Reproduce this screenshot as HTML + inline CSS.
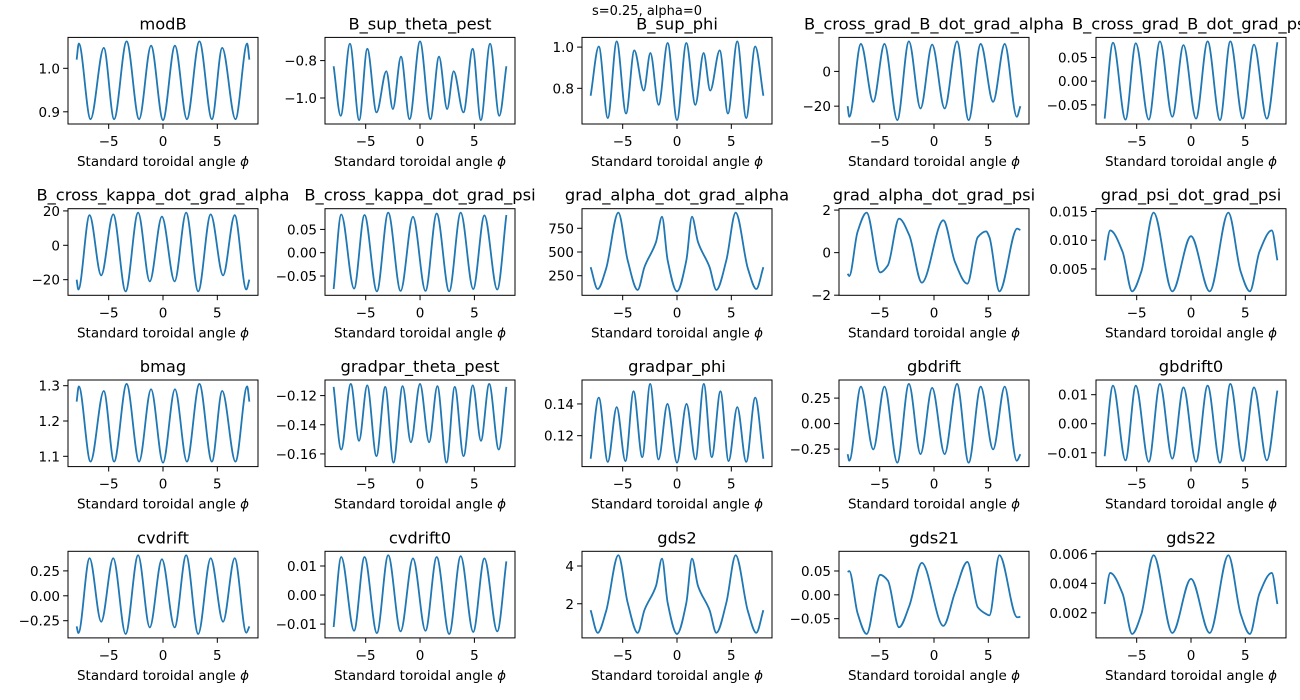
<!DOCTYPE html>
<html><head><meta charset="utf-8"><title>s=0.25, alpha=0</title>
<style>
html,body{margin:0;padding:0;background:#fff;}
svg{display:block;font-family:"DejaVu Sans","Liberation Sans",sans-serif;}
</style></head>
<body>
<svg id="fig" width="1300" height="700" viewBox="0 0 1300 700">
<text x="647" y="15" font-size="13" text-anchor="middle">s=0.25, alpha=0</text>
</svg>
<script>
// ---- shared axis data ----
const xTicks = [-5, 0, 5];
const xTickLabels = ['\u22125', '0', '5'];

// ---- per-plot data ----
const modB_x = [-7.95,-7.75,-6.67,-5.45,-4.5,-3.35,-2.2,-1.1,0,1.1,2.2,3.35,4.5,5.45,6.67,7.75,7.95];
const modB_y = [1.02,1.057,0.883,1.047,0.883,1.062,0.883,1.052,0.881,1.052,0.883,1.062,0.883,1.047,0.883,1.057,1.02];
const modB_yt = [0.9,1.0];
const modB_ytl = ['0.9','1.0'];

const bSupTheta_x = [-7.95,-7.3,-6.45,-5.6,-4.85,-4.0,-3.1,-2.5,-1.75,-0.96,0,0.96,1.75,2.5,3.1,4.0,4.85,5.6,6.45,7.3,7.95];
const bSupTheta_y = [-0.83,-1.095,-0.71,-1.118,-0.737,-1.077,-0.857,-1.059,-0.779,-1.113,-0.697,-1.113,-0.779,-1.059,-0.857,-1.077,-0.737,-1.118,-0.71,-1.095,-0.83];
const bSupTheta_yt = [-1.0,-0.8];
const bSupTheta_ytl = ['\u22121.0','\u22120.8'];

const bSupPhi_x = [-7.95,-7.2,-6.37,-5.55,-4.69,-3.93,-3.06,-2.45,-1.69,-0.86,0,0.86,1.69,2.45,3.06,3.93,4.69,5.55,6.37,7.2,7.95];
const bSupPhi_y = [0.764,1.003,0.656,1.028,0.678,0.984,0.789,0.971,0.72,1.02,0.646,1.02,0.72,0.971,0.789,0.984,0.678,1.028,0.656,1.003,0.764];
const bSupPhi_yt = [0.8,1.0];
const bSupPhi_ytl = ['0.8','1.0'];

const bxgbAlpha_x = [-7.95,-7.8,-6.73,-5.59,-4.56,-3.38,-2.31,-1.24,-0.17,0.98,2.12,3.19,4.3,5.44,6.51,7.62,7.95];
const bxgbAlpha_y = [-20,-26.1,15.8,-17.5,15.8,-28,17.3,-21.3,15.4,-21.3,17.3,-28,15.8,-17.5,15.8,-26.1,-20];
const bxgbAlpha_yt = [-20,0];
const bxgbAlpha_ytl = ['\u221220','0'];

const bxgbPsi_x = [-7.95,-7.18,-6.03,-5.08,-3.89,-2.86,-1.72,-0.69,0.46,1.53,2.67,3.62,4.77,5.8,6.98,7.95];
const bxgbPsi_y = [-0.079,0.081,-0.081,0.080,-0.081,0.084,-0.075,0.076,-0.079,0.084,-0.082,0.084,-0.079,0.077,-0.079,0.082];
const bxgbPsi_yt = [-0.05,0,0.05];
const bxgbPsi_ytl = ['\u22120.05','0.00','0.05'];

const bxkAlpha_x = [-7.95,-7.79,-6.76,-5.69,-4.58,-3.44,-2.29,-1.22,-0.1,1.07,2.13,3.24,4.39,5.53,6.6,7.67,7.95];
const bxkAlpha_y = [-20,-25.7,17.5,-17.5,18,-26.8,19,-21,16.7,-21,19,-26.8,18,-17.5,17.5,-25.7,-20];
const bxkAlpha_yt = [-20,0,20];
const bxkAlpha_ytl = ['\u221220','0','20'];

const bxkPsi_x = [-7.95,-7.25,-6.07,-5.11,-3.97,-2.93,-1.79,-0.65,0.5,1.53,2.68,3.74,4.89,5.92,7.1,7.94];
const bxkPsi_y = [-0.078,0.082,-0.077,0.081,-0.083,0.086,-0.082,0.077,-0.082,0.084,-0.083,0.086,-0.078,0.080,-0.079,0.081];
const bxkPsi_yt = [-0.05,0,0.05];
const bxkPsi_ytl = ['\u22120.05','0.00','0.05'];

const gaga_x = [-7.95,-7.3,-6.53,-5.4,-4.54,-3.62,-3.0,-1.93,-1.38,-0.86,0,0.86,1.38,1.93,3.0,3.62,4.54,5.4,6.53,7.3,7.95];
const gaga_y = [340,110,323,915,412,100,340,606,872,412,85,412,872,606,340,100,412,915,323,110,340];
const gaga_yt = [250,500,750];
const gaga_ytl = ['250','500','750'];

const gagp_x = [-7.95,-7.8,-7.04,-6.2,-4.95,-4.25,-3.22,-2.27,-1.12,0.86,1.93,3.07,4.03,4.79,5.1,6.02,7.66,7.95];
const gagp_y = [-0.99,-1.1,0.97,1.88,-0.93,-0.6,1.6,0.81,-1.41,1.52,-0.44,-1.46,0.73,1.0,0.73,-1.82,1.13,1.06];
const gagp_yt = [-2,0,2];
const gagp_ytl = ['\u22122','0','2'];

const gpgp_x = [-7.95,-7.44,-6.3,-5.42,-4.58,-3.44,-1.72,0,1.72,3.44,4.58,5.42,6.3,7.44,7.95];
const gpgp_y = [0.0065,0.0117,0.008,0.0011,0.0045,0.0148,0.0011,0.0107,0.0011,0.0148,0.0045,0.0011,0.008,0.0117,0.0065];
const gpgp_yt = [0.005,0.010,0.015];
const gpgp_ytl = ['0.005','0.010','0.015'];

const bmag_x = [-7.95,-7.75,-6.67,-5.45,-4.5,-3.35,-2.2,-1.1,0,1.1,2.2,3.35,4.5,5.45,6.67,7.75,7.95];
const bmag_y = [1.255,1.298,1.085,1.285,1.085,1.305,1.085,1.29,1.082,1.29,1.085,1.305,1.085,1.285,1.085,1.298,1.255];
const bmag_yt = [1.1,1.2,1.3];
const bmag_ytl = ['1.1','1.2','1.3'];

const gpTheta_x = [-7.95,-7.25,-6.37,-5.61,-4.86,-4.01,-3.2,-2.44,-1.6,-0.84,0,0.84,1.6,2.44,3.2,4.01,4.86,5.61,6.37,7.25,7.95];
const gpTheta_y = [-0.114,-0.157,-0.112,-0.151,-0.113,-0.1615,-0.114,-0.166,-0.1135,-0.152,-0.112,-0.152,-0.1135,-0.166,-0.114,-0.1615,-0.113,-0.151,-0.112,-0.157,-0.114];
const gpTheta_yt = [-0.16,-0.14,-0.12];
const gpTheta_ytl = ['\u22120.16','\u22120.14','\u22120.12'];

const gpPhi_x = [-7.95,-7.2,-6.37,-5.55,-4.75,-4.0,-3.2,-2.47,-1.7,-0.88,0,0.88,1.7,2.47,3.2,4.0,4.75,5.55,6.37,7.2,7.95];
const gpPhi_y = [0.1055,0.144,0.1035,0.138,0.104,0.148,0.1065,0.1526,0.105,0.14,0.103,0.14,0.105,0.1526,0.1065,0.148,0.104,0.138,0.1035,0.144,0.1055];
const gpPhi_yt = [0.12,0.14];
const gpPhi_ytl = ['0.12','0.14'];

const gbdrift_x = [-7.95,-7.8,-6.73,-5.59,-4.56,-3.38,-2.31,-1.24,-0.17,0.98,2.12,3.19,4.3,5.44,6.51,7.62,7.95];
const gbdrift_y = [-0.30,-0.364,0.363,-0.253,0.363,-0.383,0.389,-0.299,0.35,-0.299,0.389,-0.383,0.363,-0.253,0.363,-0.364,-0.30];
const gbdrift_yt = [-0.25,0,0.25];
const gbdrift_ytl = ['\u22120.25','0.00','0.25'];

const gbdrift0_x = [-7.95,-7.18,-6.03,-5.08,-3.89,-2.86,-1.72,-0.69,0.46,1.53,2.67,3.62,4.77,5.8,6.98,7.95];
const gbdrift0_y = [-0.0112,0.0131,-0.0126,0.0131,-0.0131,0.0137,-0.012,0.0125,-0.0131,0.0131,-0.0134,0.0137,-0.0128,0.0125,-0.0126,0.0114];
const gbdrift0_yt = [-0.01,0,0.01];
const gbdrift0_ytl = ['\u22120.01','0.00','0.01'];

const cvdrift_x = [-7.95,-7.79,-6.76,-5.69,-4.58,-3.44,-2.29,-1.22,-0.1,1.07,2.13,3.24,4.39,5.53,6.6,7.67,7.95];
const cvdrift_y = [-0.307,-0.373,0.377,-0.26,0.377,-0.383,0.407,-0.317,0.367,-0.317,0.407,-0.383,0.377,-0.26,0.377,-0.37,-0.307];
const cvdrift_yt = [-0.25,0,0.25];
const cvdrift_ytl = ['\u22120.25','0.00','0.25'];

const cvdrift0_x = [-7.95,-7.25,-6.07,-5.11,-3.97,-2.93,-1.79,-0.65,0.5,1.53,2.68,3.74,4.89,5.92,7.1,7.94];
const cvdrift0_y = [-0.011,0.0131,-0.0123,0.0131,-0.0131,0.0137,-0.0125,0.0126,-0.0123,0.0131,-0.0134,0.0134,-0.0127,0.0126,-0.0125,0.0116];
const cvdrift0_yt = [-0.01,0,0.01];
const cvdrift0_ytl = ['\u22120.01','0.00','0.01'];

const gds2_x = [-7.95,-7.3,-6.53,-5.4,-4.54,-3.62,-3.0,-1.93,-1.38,-0.86,0,0.86,1.38,1.93,3.0,3.62,4.54,5.4,6.53,7.3,7.95];
const gds2_y = [1.66,0.46,1.6,4.57,2.05,0.46,1.66,2.95,4.39,2.05,0.40,2.05,4.39,2.95,1.66,0.46,2.05,4.57,1.6,0.46,1.66];
const gds2_yt = [2,4];
const gds2_ytl = ['2','4'];

const gds21_x = [-7.95,-7.8,-7.04,-6.2,-4.95,-4.25,-3.22,-2.27,-1.12,0.86,1.93,3.07,4.03,4.79,5.1,6.02,7.66,7.95];
const gds21_y = [0.048,0.05,-0.038,-0.082,0.042,0.030,-0.068,-0.023,0.067,-0.065,0.005,0.069,-0.026,-0.040,-0.043,0.083,-0.047,-0.046];
const gds21_yt = [-0.05,0,0.05];
const gds21_ytl = ['\u22120.05','0.00','0.05'];

const gds22_x = [-7.95,-7.44,-6.3,-5.42,-4.58,-3.44,-1.72,0,1.72,3.44,4.58,5.42,6.3,7.44,7.95];
const gds22_y = [0.0026,0.0047,0.0033,0.00057,0.0019,0.0059,0.00064,0.0043,0.00064,0.0059,0.0019,0.00057,0.0033,0.0047,0.0026];
const gds22_yt = [0.002,0.004,0.006];
const gds22_ytl = ['0.002','0.004','0.006'];

const plotTitles = ['modB','B_sup_theta_pest','B_sup_phi','B_cross_grad_B_dot_grad_alpha','B_cross_grad_B_dot_grad_psi',
 'B_cross_kappa_dot_grad_alpha','B_cross_kappa_dot_grad_psi','grad_alpha_dot_grad_alpha','grad_alpha_dot_grad_psi','grad_psi_dot_grad_psi',
 'bmag','gradpar_theta_pest','gradpar_phi','gbdrift','gbdrift0',
 'cvdrift','cvdrift0','gds2','gds21','gds22'];

const plots = [
 [modB_x,modB_y,modB_yt,modB_ytl],[bSupTheta_x,bSupTheta_y,bSupTheta_yt,bSupTheta_ytl],[bSupPhi_x,bSupPhi_y,bSupPhi_yt,bSupPhi_ytl],
 [bxgbAlpha_x,bxgbAlpha_y,bxgbAlpha_yt,bxgbAlpha_ytl],[bxgbPsi_x,bxgbPsi_y,bxgbPsi_yt,bxgbPsi_ytl],
 [bxkAlpha_x,bxkAlpha_y,bxkAlpha_yt,bxkAlpha_ytl],[bxkPsi_x,bxkPsi_y,bxkPsi_yt,bxkPsi_ytl],[gaga_x,gaga_y,gaga_yt,gaga_ytl],
 [gagp_x,gagp_y,gagp_yt,gagp_ytl],[gpgp_x,gpgp_y,gpgp_yt,gpgp_ytl],
 [bmag_x,bmag_y,bmag_yt,bmag_ytl],[gpTheta_x,gpTheta_y,gpTheta_yt,gpTheta_ytl],[gpPhi_x,gpPhi_y,gpPhi_yt,gpPhi_ytl],
 [gbdrift_x,gbdrift_y,gbdrift_yt,gbdrift_ytl],[gbdrift0_x,gbdrift0_y,gbdrift0_yt,gbdrift0_ytl],
 [cvdrift_x,cvdrift_y,cvdrift_yt,cvdrift_ytl],[cvdrift0_x,cvdrift0_y,cvdrift0_yt,cvdrift0_ytl],[gds2_x,gds2_y,gds2_yt,gds2_ytl],
 [gds21_x,gds21_y,gds21_yt,gds21_ytl],[gds22_x,gds22_y,gds22_yt,gds22_ytl]
];

const NS = 'http://www.w3.org/2000/svg';
const svg = document.getElementById('fig');
function mk(tag, attrs, parent){
  const e = document.createElementNS(NS, tag);
  for (const k in attrs) e.setAttribute(k, attrs[k]);
  parent.appendChild(e);
  return e;
}
function slug(s){ return s.toLowerCase().replace(/_/g,'-'); }

function monoPath(xs, ys, sx, sy){
  const n = xs.length, d = [], m = new Array(n);
  for (let i=0;i<n-1;i++) d.push((ys[i+1]-ys[i])/(xs[i+1]-xs[i]));
  m[0]=d[0]; m[n-1]=d[n-2];
  for (let i=1;i<n-1;i++){
    if (d[i-1]*d[i] <= 0) m[i]=0;
    else { const h0=xs[i]-xs[i-1], h1=xs[i+1]-xs[i];
      const w1=2*h1+h0, w2=h1+2*h0; m[i]=(w1+w2)/(w1/d[i-1]+w2/d[i]); }
  }
  let p = 'M'+sx(xs[0]).toFixed(2)+','+sy(ys[0]).toFixed(2);
  for (let i=0;i<n-1;i++){
    const h=xs[i+1]-xs[i];
    p += ' C'+sx(xs[i]+h/3).toFixed(2)+','+sy(ys[i]+m[i]*h/3).toFixed(2)+' '
        +sx(xs[i+1]-h/3).toFixed(2)+','+sy(ys[i+1]-m[i+1]*h/3).toFixed(2)+' '
        +sx(xs[i+1]).toFixed(2)+','+sy(ys[i+1]).toFixed(2);
  }
  return p;
}

const W = 190, H = 86.6;
plots.forEach((pl, idx) => {
  const [xs, ys, yt, ytl] = pl;
  const col = idx % 5, row = Math.floor(idx / 5);
  const L = 68 + 257*col, T = 37.4 + 171.3*row;
  const name = slug(plotTitles[idx]);
  const g = mk('g', {}, svg);
  
  

  const xmin = Math.min(...xs), xmax = Math.max(...xs);
  const ymin = Math.min(...ys), ymax = Math.max(...ys);
  const xm = (xmax-xmin)*0.05, ym = (ymax-ymin)*0.05;
  const x0 = xmin-xm, x1 = xmax+xm, y0 = ymin-ym, y1 = ymax+ym;
  const sx = v => L + (v-x0)/(x1-x0)*W;
  const sy = v => T + H - (v-y0)/(y1-y0)*H;

  const line = mk('path', {d: monoPath(xs, ys, sx, sy), fill:'none', stroke:'#1f77b4', 'stroke-width':'1.8', 'stroke-linejoin':'round'}, g);
  
  

  const box = mk('rect', {x:L, y:T, width:W, height:H, fill:'none', stroke:'#000', 'stroke-width':'1'}, g);
  
  

  xTicks.forEach((t, i) => {
    const px = sx(t);
    const tk = mk('line', {x1:px, y1:T+H, x2:px, y2:T+H+4.9, stroke:'#000', 'stroke-width':'1'}, g);
    
    
    const tl = mk('text', {x:px, y:T+H+22, 'font-size':'13.5', 'text-anchor':'middle'}, g);
    tl.textContent = xTickLabels[i];
    
    
  });
  yt.forEach((t, i) => {
    const py = sy(t);
    const tk = mk('line', {x1:L-4.9, y1:py, x2:L, y2:py, stroke:'#000', 'stroke-width':'1'}, g);
    
    
    const tl = mk('text', {x:L-8, y:py+5, 'font-size':'13.5', 'text-anchor':'end'}, g);
    tl.textContent = ytl[i];
    
    
  });

  const xl = mk('text', {x:L+W/2, y:T+H+42, 'font-size':'13.5', 'text-anchor':'middle'}, g);
  xl.innerHTML = 'Standard toroidal angle <tspan font-style="italic">\u03d5</tspan>';
  
  

  const tt = mk('text', {x:L+W/2, y:T-8, 'font-size':'16.3', 'text-anchor':'middle'}, g);
  tt.textContent = plotTitles[idx];
  
  
});
</script>
</body></html>
